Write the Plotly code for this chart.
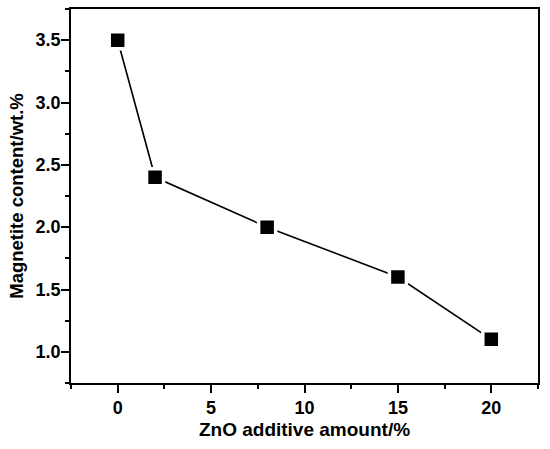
import plotly.graph_objects as go

zno = [0, 2, 8, 15, 20]
magnetite = [3.5, 2.4, 2.0, 1.6, 1.1]

x_title = "ZnO additive amount/%"
y_title = "Magnetite content/wt.%"

font_family = "Liberation Sans, Arial, sans-serif"

fig = go.Figure()
fig.add_trace(go.Scatter(
    x=zno, y=magnetite, mode="lines+markers",
    line=dict(color="black", width=1.6),
    marker=dict(symbol="square", size=17, color="black",
                line=dict(color="white", width=3.5)),
    showlegend=False,
))

axis_common = dict(
    showline=True, linecolor="black", linewidth=1.5, mirror=True,
    showgrid=False, zeroline=False,
    ticks="outside", ticklen=8, tickwidth=1.5, tickcolor="black",
    tickfont=dict(family=font_family, size=18, color="black", weight="bold"),
)

fig.update_xaxes(
    range=[-2.5, 22.5], tick0=0, dtick=5,
    minor=dict(ticks="outside", ticklen=4, tickwidth=1.5, tickcolor="black", dtick=2.5, tick0=0),
    title=dict(text=x_title, font=dict(family=font_family, size=19, color="black", weight="bold"), standoff=5),
    **axis_common,
)
fig.update_yaxes(
    range=[0.75, 3.75], tick0=0, dtick=0.5, tickformat=".1f",
    minor=dict(ticks="outside", ticklen=4, tickwidth=1.5, tickcolor="black", dtick=0.25, tick0=0),
    title=dict(text=y_title, font=dict(family=font_family, size=18.5, color="black", weight="bold"), standoff=7),
    ticklabelstandoff=-3,
    **axis_common,
)

fig.update_layout(
    width=550, height=449,
    margin=dict(l=71, r=12, t=7, b=66),
    paper_bgcolor="white", plot_bgcolor="white",
)

fig.write_html("out.html", config={"displayModeBar": False},
               post_script="document.body.style.margin='0';")
